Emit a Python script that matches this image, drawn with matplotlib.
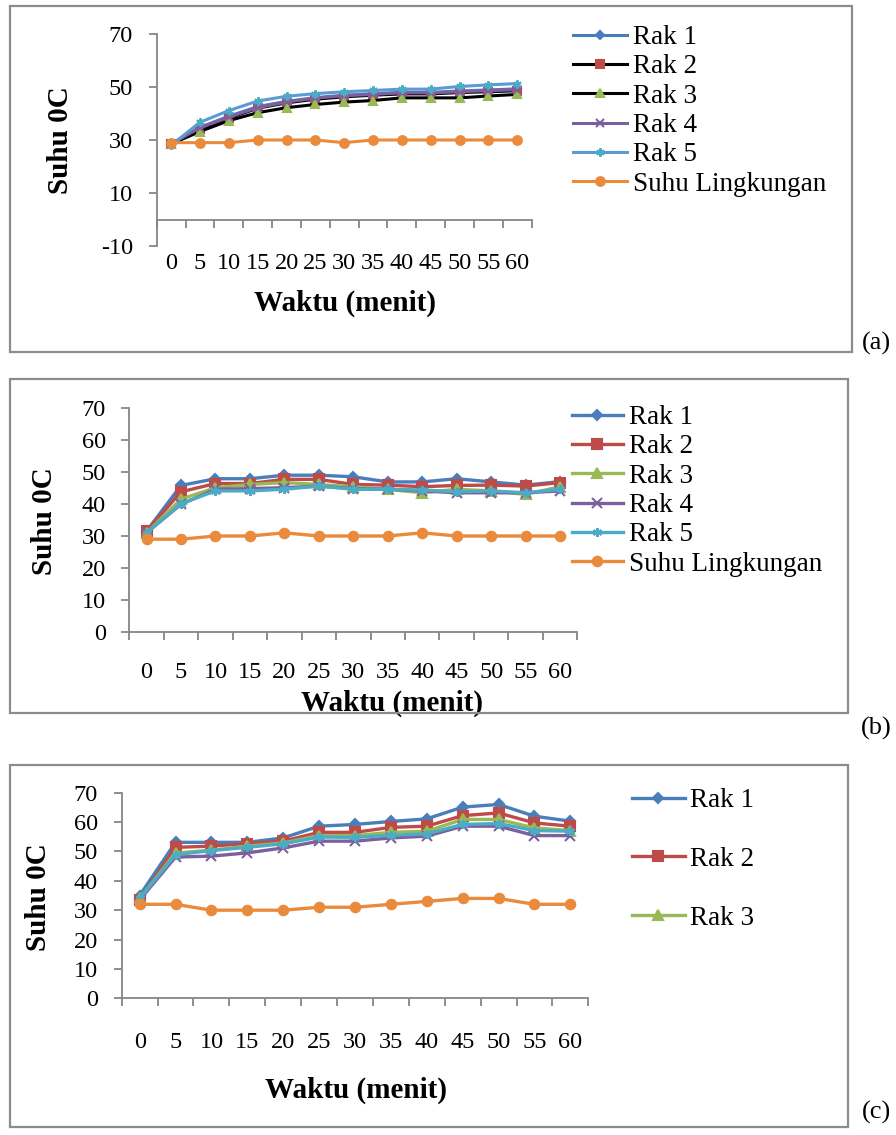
import matplotlib
matplotlib.use('Agg')
import matplotlib.pyplot as plt
from matplotlib.patches import Rectangle
from matplotlib.ticker import FixedLocator, NullFormatter

plt.rcParams['font.family'] = ['Liberation Serif', 'DejaVu Serif']
plt.rcParams['axes.unicode_minus'] = False

# ---- data ----
waktu = ['0', '5', '10', '15', '20', '25', '30', '35', '40', '45', '50', '55', '60']
series_names = ['Rak 1', 'Rak 2', 'Rak 3', 'Rak 4', 'Rak 5', 'Suhu Lingkungan']

# (a)
a_rak1 = [28.5, 34.8, 39.0, 42.6, 44.6, 46.0, 46.9, 47.5, 48.0, 48.0, 48.5, 48.9, 49.3]
a_rak2 = [28.5, 34.2, 38.2, 42.0, 44.0, 45.4, 46.3, 46.9, 47.4, 47.4, 47.9, 48.2, 48.6]
a_rak3 = [28.5, 33.2, 37.3, 40.3, 42.2, 43.4, 44.3, 44.9, 45.9, 45.9, 45.9, 46.6, 47.2]
a_rak4 = [28.5, 34.6, 38.6, 42.2, 44.3, 45.8, 46.7, 47.2, 47.8, 47.8, 48.2, 48.6, 49.0]
a_rak5 = [28.0, 36.7, 41.1, 44.7, 46.5, 47.5, 48.2, 48.7, 49.2, 49.2, 50.2, 50.8, 51.3]
a_env = [29, 29, 29, 30, 30, 30, 29, 30, 30, 30, 30, 30, 30]

# (b)
b_rak1 = [31.5, 45.8, 47.9, 47.9, 49.0, 49.0, 48.5, 46.9, 46.9, 47.9, 46.9, 45.9, 47.0]
b_rak2 = [31.5, 43.8, 46.4, 46.4, 47.7, 47.7, 46.1, 45.9, 45.4, 45.8, 45.9, 45.6, 46.7]
b_rak3 = [31.0, 41.5, 45.1, 46.1, 46.7, 46.1, 45.4, 44.6, 43.5, 44.6, 44.1, 43.0, 45.4]
b_rak4 = [31.0, 39.9, 44.6, 44.8, 45.1, 45.6, 44.8, 44.6, 44.1, 43.5, 43.5, 43.5, 44.1]
b_rak5 = [31.0, 40.1, 44.1, 44.1, 44.6, 45.6, 44.6, 44.6, 44.4, 43.8, 44.1, 43.5, 44.6]
b_env = [29, 29, 30, 30, 31, 30, 30, 30, 31, 30, 30, 30, 30]

# (c)
c_rak1 = [35.0, 53.1, 53.1, 53.1, 54.6, 58.6, 59.2, 60.2, 61.1, 65.1, 66.0, 62.0, 60.3]
c_rak2 = [33.6, 51.4, 51.8, 52.7, 53.5, 56.5, 56.5, 58.2, 58.6, 62.2, 63.1, 59.7, 58.6]
c_rak3 = [34.0, 49.5, 50.4, 51.8, 52.9, 55.4, 55.4, 56.5, 56.9, 60.9, 60.9, 58.0, 57.1]
c_rak4 = [33.5, 48.1, 48.4, 49.5, 51.2, 53.5, 53.5, 54.6, 55.2, 58.6, 58.6, 55.4, 55.4]
c_rak5 = [34.0, 48.9, 50.3, 51.4, 52.6, 54.9, 54.8, 55.5, 56.0, 59.2, 59.5, 57.1, 56.9]
c_env = [32, 32, 30, 30, 30, 31, 31, 32, 33, 34, 34, 32, 32]

# ---- styles ----
BLUE, RED, GREEN, PURPLE, AQUA, ORANGE = '#4A7EBB', '#BE4B48', '#98B954', '#7D5FA0', '#4BACC6', '#E98A3C'
MARKERS = ['D', 's', '^', 'x', (6, 2, 0), 'o']
MSCALE = [0.75, 1.0, 1.0, 1.0, 1.0, 1.05]
MCOLORS = [BLUE, RED, GREEN, PURPLE, AQUA, ORANGE]
LCOL_A = [BLUE, 'black', 'black', PURPLE, '#5B9BD5', ORANGE]
LCOL_BC = [BLUE, RED, GREEN, PURPLE, AQUA, ORANGE]
GREY = '#868686'

W, H = 896, 1135
fig = plt.figure(figsize=(W / 100, H / 100), dpi=100)


def box(l, t, r, b):
    return [l / W, 1 - b / H, (r - l) / W, (b - t) / H]


def frame(l, t, r, b):
    fig.add_artist(Rectangle((l / W, 1 - b / H), (r - l) / W, (b - t) / H,
                             transform=fig.transFigure, fill=False, ec='#8c8c8c', lw=1.6))


def setup(ax, ylo, yhi, yticks, label_pad):
    n = len(waktu)
    ax.set_xlim(-0.5, n - 0.5)
    ax.set_ylim(ylo, yhi)
    for s in ['top', 'right']:
        ax.spines[s].set_visible(False)
    for s in ['left', 'bottom']:
        ax.spines[s].set_color(GREY)
        ax.spines[s].set_linewidth(1.3)
    ax.set_yticks(yticks)
    ax.tick_params(axis='y', direction='out', length=6, width=1.3, color=GREY,
                   labelsize=17.5, pad=11)
    ax.xaxis.set_major_locator(FixedLocator([i - 0.5 for i in range(n + 1)]))
    ax.xaxis.set_major_formatter(NullFormatter())
    ax.set_xticks(list(range(n)), waktu, minor=True)
    ax.tick_params(axis='x', which='major', direction='out', length=6, width=1.3, color=GREY)
    ax.tick_params(axis='x', which='minor', length=0, labelsize=17.5, pad=label_pad)
    ax.patch.set_alpha(0)


def draw(ax, data, lcols, ms, lw):
    x = list(range(len(waktu)))
    for vals, name, mk, sc, mc, lc in zip(data, series_names, MARKERS, MSCALE, MCOLORS, lcols):
        ax.plot(x, vals, color=lc, lw=lw, marker=mk, ms=ms * sc, mfc=mc, mec=mc,
                mew=1.5, label=name, clip_on=False)


def labels(ax, l, t, r, b, ylab_xy, xlab_xy):
    w, h = r - l, b - t
    ax.set_ylabel('Suhu 0C', fontsize=21, fontweight='bold', va='center')
    ax.yaxis.set_label_coords((ylab_xy[0] - l) / w, (b - ylab_xy[1]) / h)
    ax.set_xlabel('Waktu (menit)', fontsize=21, fontweight='bold', va='center')
    ax.xaxis.set_label_coords((xlab_xy[0] - l) / w, (b - xlab_xy[1]) / h)


LEG = dict(frameon=False, fontsize=19.5, handletextpad=0.2, borderpad=0, borderaxespad=0)

# ---------- (a) ----------
frame(10, 6, 852, 352)
pa = (156.7, 34, 531.7, 246)
ax = fig.add_axes(box(*pa))
setup(ax, -10, 70, [-10, 10, 30, 50, 70], 24)
ax.spines['bottom'].set_position(('data', 0))
draw(ax, [a_rak1, a_rak2, a_rak3, a_rak4, a_rak5, a_env], LCOL_A, 6, 2.2)
labels(ax, *pa, (60, 140), (345, 303))
ax.legend(loc='upper left', bbox_to_anchor=(573 / W, 1 - 25 / H), bbox_transform=fig.transFigure,
          handlelength=2.0, labelspacing=0.16, **LEG)
fig.text(876 / W, 1 - 343 / H, '(a)', ha='center', va='center', fontsize=19)

# ---------- (b) ----------
frame(10, 379, 848, 713)
pb = (129.3, 408, 577.3, 632)
ax = fig.add_axes(box(*pb))
setup(ax, 0, 70, list(range(0, 71, 10)), 21.5)
draw(ax, [b_rak1, b_rak2, b_rak3, b_rak4, b_rak5, b_env], LCOL_BC, 6.5, 2.4)
labels(ax, *pb, (45, 521), (391.7, 703))
ax.legend(loc='upper left', bbox_to_anchor=(571.7 / W, 1 - 405 / H), bbox_transform=fig.transFigure,
          handlelength=1.9, labelspacing=0.16, **LEG)
fig.text(876 / W, 1 - 728 / H, '(b)', ha='center', va='center', fontsize=19)

# ---------- (c) ----------
frame(10, 765, 848, 1127)
pc = (121.7, 792.7, 588.3, 998.3)
ax = fig.add_axes(box(*pc))
setup(ax, 0, 70, list(range(0, 71, 10)), 24.5)
draw(ax, [c_rak1, c_rak2, c_rak3, c_rak4, c_rak5, c_env], LCOL_BC, 6.5, 2.4)
labels(ax, *pc, (38, 897), (355.8, 1090))
h, l = ax.get_legend_handles_labels()
ax.legend(h[:3], l[:3], loc='upper left', bbox_to_anchor=(631.7 / W, 1 - 788 / H),
          bbox_transform=fig.transFigure, handlelength=1.95, labelspacing=1.25, **LEG)
fig.text(876 / W, 1 - 1112 / H, '(c)', ha='center', va='center', fontsize=19)

fig.savefig('out.png', dpi=100)
